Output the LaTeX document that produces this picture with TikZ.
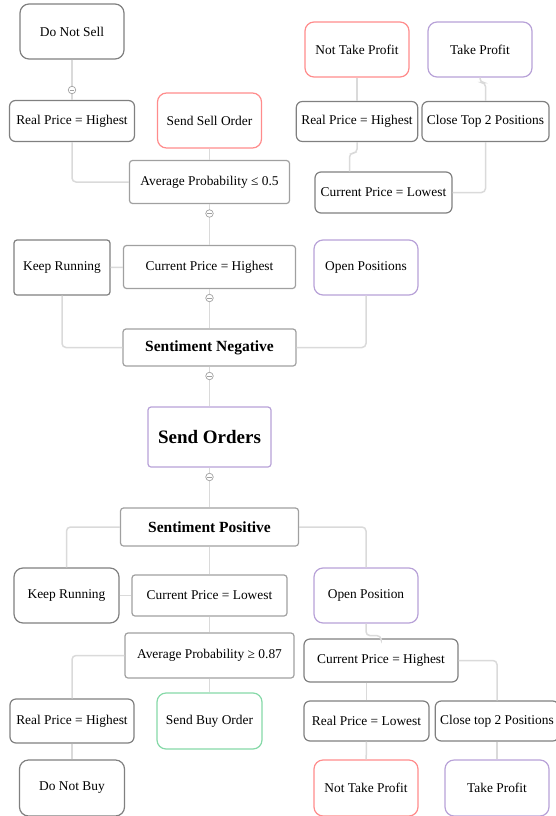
\documentclass[tikz,border=0pt]{standalone}
\usepackage{fontspec}
\setmainfont{Liberation Serif}
\usepackage{tikz}

\definecolor{edgegray}{HTML}{DADADA}
\definecolor{boxgray}{HTML}{808080}
\definecolor{lightbox}{HTML}{A0A0A0}
\definecolor{sellred}{HTML}{FF8C8C}
\definecolor{posviolet}{HTML}{B8A2D8}
\definecolor{buygreen}{HTML}{86D9A8}

\begin{document}
\begin{tikzpicture}[x=1pt,y=-1pt,
  box/.style={draw=boxgray,line width=1.2pt,fill=white,align=center,font=\fontsize{13.4}{15}\selectfont,inner xsep=5pt},
  leaf/.style={box,rounded corners=9pt,minimum width=104pt,minimum height=55pt},
  cond/.style={box,rounded corners=6pt,minimum height=41pt},
  flat/.style={box,draw=lightbox,rounded corners=3pt,minimum height=43pt},
  head/.style={flat,font=\fontsize{15.5}{18}\selectfont\bfseries,minimum height=37pt},
  link/.style={draw=edgegray,line width=1.5pt,rounded corners=4pt},
  fold/.style={circle,draw=lightbox,fill=white,line width=0.7pt,minimum size=7.5pt,inner sep=0pt,
    path picture={\draw[lightbox,line width=0.7pt] ([xshift=-2.2pt]path picture bounding box.center) -- ([xshift=2.2pt]path picture bounding box.center);}}]
\useasboundingbox (0,0) rectangle (556,816);

\node[leaf] (dns) at (72,31.5) {Do Not Sell};
\node[cond,minimum width=125pt] (rph1) at (72,121) {Real Price = Highest};
\node[leaf,draw=sellred] (sso) at (209.5,120.5) {Send Sell Order};
\node[flat,minimum width=160pt] (apl) at (209.5,182) {Average Probability ≤ 0.5};
\node[flat,minimum width=172pt] (cph1) at (209.5,267) {Current Price = Highest};
\node[cond,rounded corners=3pt,minimum width=96pt,minimum height=55pt] (kr1) at (62,267.5) {Keep Running};
\node[leaf,draw=posviolet] (op1) at (366,267.5) {Open Positions};
\node[head,minimum width=173pt] (sn) at (209.5,347.5) {Sentiment Negative};
\node[head,draw=posviolet,font=\fontsize{19}{22}\selectfont\bfseries,minimum width=123pt,minimum height=60pt] (so) at (209.5,437) {Send Orders};

\node[leaf,draw=sellred] (ntp1) at (357,49.5) {Not Take Profit};
\node[leaf,draw=posviolet] (tp1) at (480,49.5) {Take Profit};
\node[cond,minimum width=120pt,minimum height=40pt] (rph2) at (357,121.5) {Real Price = Highest};
\node[cond,minimum height=40pt] (ct2a) at (485.5,121.5) {Close Top 2 Positions};
\node[cond,minimum width=137pt] (cpl1) at (383.5,192.5) {Current Price = Lowest};

\node[head,minimum width=178pt,minimum height=38pt] (sp) at (209.5,527) {Sentiment Positive};
\node[leaf,minimum width=105pt] (kr2) at (66.5,595.5) {Keep Running};
\node[flat,minimum width=155pt,minimum height=41pt] (cpl2) at (209.5,595.5) {Current Price = Lowest};
\node[leaf,draw=posviolet] (op2) at (366,595.5) {Open Position};
\node[flat,minimum width=169pt,minimum height=45pt] (apg) at (209.5,655.5) {Average Probability ≥ 0.87};
\node[cond,minimum width=154pt,minimum height=43pt] (cph2) at (381,660.5) {Current Price = Highest};
\node[cond,minimum width=124pt,minimum height=44pt] (rph3) at (72,721) {Real Price = Highest};
\node[leaf,draw=buygreen,minimum width=105pt,minimum height=56pt] (sbo) at (209.5,721) {Send Buy Order};
\node[cond,minimum width=125pt,minimum height=40pt] (rpl) at (366.5,721) {Real Price = Lowest};
\node[cond,minimum height=40pt] (ct2b) at (497,721) {Close top 2 Positions};
\node[leaf,minimum width=105pt,minimum height=56pt] (dnb) at (72,788) {Do Not Buy};
\node[leaf,draw=sellred,minimum height=56pt] (ntp2) at (366,788) {Not Take Profit};
\node[leaf,draw=posviolet,minimum height=56pt] (tp2) at (497,788) {Take Profit};

\draw[link] (dns) -- (rph1);
\draw[link] (rph1.south) |- (apl.west);
\draw[link] (sso) -- (apl);
\draw[link] (apl) -- (cph1);
\draw[link] (kr1) -- (cph1);
\draw[link] (cph1) -- (sn);
\draw[link] (kr1.south) |- (sn.west);
\draw[link] (op1.south) |- (sn.east);
\draw[link] (sn) -- (so);
\draw[link] (so) -- (sp);

\draw[link] (ntp1) -- (rph2);
\draw[link] (tp1.south) -- ++(0,5) -| (ct2a.north);
\draw[link] (rph2.south) -- ++(0,11) -| ([xshift=-34pt]cpl1.north);
\draw[link] (ct2a.south) |- (cpl1.east);

\draw[link] (sp.west) -| (kr2.north);
\draw[link] (sp.east) -| (op2.north);
\draw[link] (sp) -- (cpl2);
\draw[link] (kr2) -- (cpl2);
\draw[link] (cpl2) -- (apg);
\draw[link] (apg.west) -| (rph3.north);
\draw[link] (apg) -- (sbo);
\draw[link] (op2.south) -- ++(0,12) -| (cph2.north);
\draw[link] (cph2.east) -| (ct2b.north);
\draw[link] (rpl.north |- cph2.south) -- (rpl.north);
\draw[link] (rph3) -- (dnb);
\draw[link] (rpl) -- (ntp2);
\draw[link] (ct2b) -- (tp2);

\node[fold] (f1) at (72,90) {};
\node[fold] (f2) at (209.5,213.5) {};
\node[fold] (f3) at (209.5,298) {};
\node[fold] (f4) at (209.5,376) {};
\node[fold] (f5) at (209.5,477) {};
\end{tikzpicture}
\end{document}
